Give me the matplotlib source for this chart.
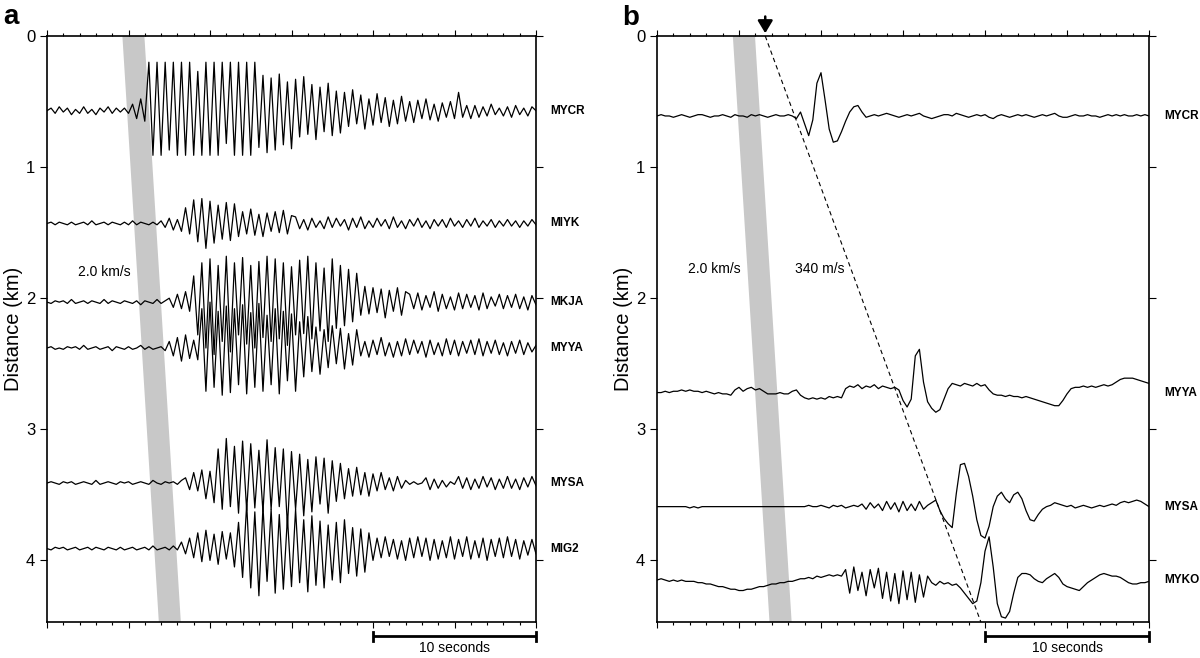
import numpy as np
import matplotlib
matplotlib.use('Agg')
import matplotlib.pyplot as plt
import matplotlib.transforms as mtransforms

plt.rcParams['font.family'] = ['Liberation Sans', 'DejaVu Sans']

DT = 0.25      # seconds between samples
UNIT = 0.01    # km per amplitude unit, positive = up on the page
YMAX = 4.47    # km at bottom of the axes

# gray band (2.0 km/s) and acoustic arrival (340 m/s)
band_t0, band_speed, band_width = 5.3, 2.0, 1.35
arrival_t0, arrival_speed = 6.6, 0.34

# ---- panel a ----
stations_a = ['MYCR', 'MIYK', 'MKJA', 'MYYA', 'MYSA', 'MIG2']
offsets_a = [0.57, 1.43, 2.03, 2.38, 3.41, 3.91]

mycr_a = [0, 2, -2, 3, -1, 2, -3, 1, -2, 3, -2, 1, -3, 2, -1, 3, -2, 2, -1, 2, -2,
          5, -6, 9, -8,
          37, -34, 37, -34, 37, -30, 37, -34, 37, -34, 37, -34, 30, -34, 37, -34, 37, -34,
          37, -25, 37, -34, 37, -34, 37, -34, 37,
          -28, 27, -32, 25, -30, 28, -26, 22, -29,
          24, -20, 26, -18, 20, -22, 18, -16, 21, -19, 15, -17,
          14, -12, 16, -10, 12, -14, 9, -11, 13, -9, 10, -12, 8, -10, 11, -8,
          7, -9, 8, -6, 9, -7, 5, -8, 6, -5, 7, -6, 14, -5, 4, -6,
          4, -5, 3, -4, 5, -3, 2, -4, 3, -5, 4, -3, 2, -4, 3, 0]
miyk_a = [0, 1, -1, 1, 0, -1, 1, -1, 0, 1, -1, 2, -1, 0, 1, -1, 1, 0, -1, 1, -1, 2, -1, 1, 0,
          -1, 1, -1, 2,
          -3, 4, -5, 3, -6,
          12, -8, 18, -14, 19, -19, 17, -15, 14, -12, 16, -13, 15,
          -10, 9, -8, 11, -9, 7, -10, 8, -6, 9, -7, 10, -8, 6,
          5, -4, 3, -5, 4, -3, 2, -4, 5, -3, 4, -2, 3, -5, 4, -3, 5, -4, 2, -3,
          4, -2, 3, -4, 5, -3, 2, -4, 3, -2, 4, -3, 2, -4, 3, -2, 3, -3, 4, -2,
          2, -3, 3, -2, 4, -3, 2, -2, 3, -3, 2, -2, 3, -2, 2, -3, 2, -2, 3, -1]
mkja_a = [0, -1, 1, 0, 1, -1, 2, -1, 0, 1, -1, 1, 0, -1, 2, -1, 1, 0, -1, 1,
          0, -1, 1, -2, 1, 0, -1, 2, -1, 1,
          3, -4, 6, -5, 8, -7,
          20, -25, 30, -35, 33, -40, 28, -30, 35, -38, 30, -25, 34, -32, 28, -35, 31, -27,
          35, -30, 33, -28, 30, -33, 27, -25, 32, -24, 35, -28, 30, -22, 26, -30, 33, -20,
          28, -18, 25, -15, 22,
          -10, 12, -9, 11, -8, 10, -12, 9, -7, 11, -10, 8,
          6, -5, 7, -6, 5, -4, 8, -7, 6, -5, 4, -6, 7, -5, 6, -4, 5, -6, 7, -5,
          4, -3, 6, -5, 5, -4, 6, -5, 4, -6, 5, -2]
myya_a = [0, 1, -1, 0, -1, 1, 0, 1, -1, 2, -1, 0, 1, -1, 0, 1, -2, 1, 0, -1,
          1, -1, 0, 2, -1, 1, -1, 0, 1, -2,
          5, -6, 8, -10, 10, -8, 6, -9,
          30, -33, 35, -30, 28, -36, 32, -34, 30, -28, 33, -35, 27, -30, 34, -33, 25, -28,
          30, -35, 28, -25, 26, -33, 20, -22, 24,
          -18, 16, -20, 14, -15, 17, -12, 15, -16, 11, -13, 14,
          -6, 5, -7, 6, -5, 8, -6, 4, -7, 5, -6, 7, -5, 6, -4, 5, -7, 6, -5, 4,
          -6, 7, -5, 6, -6, 5, -4, 6, -5, 7, -6, 5, -4, 6, -5, 4, -6, 5, -4, 6,
          -5, 4, -3, 2]
mysa_a = [0, 1, 0, -1, 1, 0, 1, -1, 0, 1, 0, -1, 2, -1, 0, 1, 0, -1, 1, 0,
          1, -1, 0, 1, 0, -1, 2, 0, -1, 1, 0, 1, -1, 2,
          4, -5, 8, -6, 10, -12, 9,
          -15, 26, -20, 34, -18, 28, -23, 32, -21, 30, -19, 25, -22, 33, -20, 27, -18, 26,
          -33, 24, -20, 22, -25, 18, -22, 20, -16, 19, -23, 17, -14, 15,
          -12, 11, -10, 12, -9, 8, -10, 7, -6, 8,
          -5, 4, -6, 5, -4, 2, -1, 1, -1, 0, 4, -5, 3, -4, 2, -3, 1, -1, 5, -4,
          4, -5, 3, -4, 5, -3, 4, -5, 3, -4, 5, -4, 3, -5, 4, -3, 5, -2]
mig2_a = [0, -1, 1, 0, 1, -1, 0, 1, -1, 0, 1, -1, 1, 0, -1, 1, 0, -1, 1, -1,
          0, 1, -1, 0, 1, -1, 2, -1, 0, 1, -1, 2, -1,
          5, -4, 8, -7, 12, -10, 14, -9, 11, -12, 13, -8, 12,
          -14, 20, -22, 34, -30, 28, -36, 32, -25, 30, -34, 26, -31, 24, -29, 30, -26, 22,
          -33, 25, -28, 21, -30, 18, -24, 20, -26, 22, -19, 16, -21, 15, -18, 12,
          -9, 8, -7, 9, -6, 7, -8, 6, -9, 8, -7, 9, -6, 8, -9, 7, -8, 6, -7, 9,
          -8, 7, -6, 9, -8, 6, -7, 8, -9, 7, -6, 8, -7, 9, -6, 7, -8, 6, -5, 7, -4]
traces_a = [mycr_a, miyk_a, mkja_a, myya_a, mysa_a, mig2_a]

# ---- panel b ----
stations_b = ['MYCR', 'MYYA', 'MYSA', 'MYKO']
offsets_b = [0.61, 2.72, 3.59, 4.15]

mycr_b = [0, 1, 0, 0, -1, 0, 1, 0, -1, 0, 1, 1, 0, -1, 0, 0, 1, 0, -1, 1,
          0, 0, -1, 1, 0, 1, 0, -1, 0, 1, 0, 0, 1, 0,
          -2, 3, -6, -15, -3, 25, 33, 12, -10, -20, -19, -12, -4, 3, 7, 8, 3, -1,
          0, 1, 0, 1, 2, 1, 0, -1, 0, 1, 0, 1, 2, 0, -1, -2, -1, 0, 1, 1,
          0, 2, 1, 0, -1, 0, 1, 0, 1, -1, -2, 0, 1, 0, -1, 0, 1, 0, 1, 0,
          -1, 0, 1, 0, 1, 2, 0, -1, -1, 0, 1, 0, 0, 1, 0, 0, -1, 0, 1, 0,
          1, 0, 1, 0, 0, 1, 0, 1, 0]
myya_b = [0, 0, 1, 0, 1, 1, 2, 1, 2, 1, 1, 0, 1, 0, -1, 0, -1, -1, -2,
          2, 4, 1, 3, 4, 2, 3, 1,
          -1, -1, -1, 0, -1, -1,
          1, 2,
          -2, -4, -5, -4, -5, -4, -5, -3, -4, -3, -4,
          3, 5, 4, 6, 3, 5, 4, 6, 3, 5, 4, 3, 4,
          2, -6, -11, -5, 28, 33, 8, -7, -12, -15, -13, -5, 3, 7,
          6, 5, 7, 6, 5, 7, 5, 6,
          2, -1, -2, -2, -3, -2, -3, -3, -4, -3, -4, -5,
          -6, -7, -8, -9, -10, -10,
          -6, -1, 3,
          4, 4, 5, 4, 5, 4, 5, 6, 5, 6, 8,
          10, 11, 11, 11, 10, 9, 8, 7]
mysa_b = [0, 0, 0, 0, 0, 0, 0, 0, -1, 0, -1, 0, 0, 0, 0, 0, 0, 0, 0, 0,
          0, 0, 0, 0, 0, 0, 0, 0, 0, 0, 0, 0, 0, 0, 0, 0, 0, 1, 0, 0,
          1, 0, -1, 1, 0, 1, -1, 0, 1, 0,
          2, -2, 3, -1, 2, -3, 4, -2, 3, -4, 4, -3, 2, -3, 4, -2, 1,
          3, 5, -3, -9, -13, -16, 10, 32, 33, 23, 8, -10, -22, -24, -15, 0,
          8, 11, 6, 3, 9, 11, 6, -3, -10, -11, -6, -2, 0, 1, 3, 2,
          1, 0, 1, -1, 0, 1, 0, -1, 0, 1, 0, 1, 2, 1,
          3, 4, 3, 4, 5, 4, 2, 0]
myko_b = [0, 1, 0, -1, 0, -1, 0, -1, -1, -1,
          -2, -2, -3, -3, -4, -5, -5, -6, -7, -7, -8,
          -8, -7, -7, -6, -5, -5, -4, -3, -3, -2, -2, -1, -1, 0,
          1, 1, 2, 1, 3, 2, 3, 4, 3, 4, 3,
          8, -10, 10, -8, 6, -12, 8, -6, 9, -14, 6, -16, 5, -18, 7, -15, 6, -17, 4, -13, 3,
          -2, -4, -1, -3, -2, -4, -3, -6, -10, -14,
          -18, -16, -2, 22, 33, 10, -18, -28, -29, -24, -10, 2, 5, 5, 4, 1, -1, -2, 1, 3,
          5, 2, -3, -5, -6, -7, -8, -5, -2, 0, 2, 4, 5, 4, 3, 3, 2, 0, -2, -3,
          -3, -2, -2, -1]
traces_b = [mycr_b, myya_b, mysa_b, myko_b]


def draw_panel(ax, names, offsets, traces):
    # 2.0 km/s gray band
    d = np.array([0, YMAX])
    tc = band_t0 + d / band_speed
    hw = band_width / 2
    ax.fill([tc[0] - hw, tc[0] + hw, tc[1] + hw, tc[1] - hw], [0, 0, YMAX, YMAX],
            color='#c8c8c8', lw=0, zorder=0)

    trans = mtransforms.blended_transform_factory(ax.transAxes, ax.transData)
    for name, off, tr in zip(names, offsets, traces):
        amp = np.asarray(tr) * UNIT
        t = np.arange(len(amp)) * DT
        ax.plot(t, off - amp, color='black', lw=0.9, zorder=3)
        ax.text(1.03, off, name, transform=trans, fontsize=8.5, fontweight='bold', va='center')

    ax.set_xlim(0, 30)
    ax.set_ylim(YMAX, 0)
    ax.set_xticks(np.arange(0, 31, 5))
    ax.set_xticks(np.arange(0, 31, 1), minor=True)
    ax.set_yticks([0, 1, 2, 3, 4])
    ax.tick_params(axis='x', which='both', direction='out', top=True, bottom=True,
                   labelbottom=False, width=0.8)
    ax.tick_params(axis='x', which='major', length=4.5)
    ax.tick_params(axis='x', which='minor', length=2.2)
    ax.tick_params(axis='y', direction='out', left=True, right=True, length=5,
                   width=0.8, labelsize=12)
    for sp in ax.spines.values():
        sp.set_linewidth(1.2)
    ax.set_ylabel('Distance (km)', fontsize=14.5, labelpad=2)

    # 10 s scale bar
    yb = YMAX + 0.11
    ax.plot([20, 30], [yb, yb], color='black', lw=2, clip_on=False, solid_capstyle='butt')
    for xe in (20, 30):
        ax.plot([xe, xe], [yb - 0.035, yb + 0.035], color='black', lw=2, clip_on=False)
    ax.text(25, yb + 0.085, '10 seconds', fontsize=10, ha='center', va='center')


fig = plt.figure(figsize=(12, 6.58), dpi=100)
ax_a = fig.add_axes([47 / 1200, 1 - 622 / 658, 489 / 1200, 586 / 658])
ax_b = fig.add_axes([657 / 1200, 1 - 622 / 658, 492 / 1200, 586 / 658])

draw_panel(ax_a, stations_a, offsets_a, traces_a)
draw_panel(ax_b, stations_b, offsets_b, traces_b)

ax_a.text(1.9, 1.8, '2.0 km/s', fontsize=10, va='center')
ax_b.text(1.9, 1.78, '2.0 km/s', fontsize=10, va='center')
ax_b.text(8.4, 1.78, '340 m/s', fontsize=10, va='center')

# 340 m/s arrival line and the arrow marking the origin
d = np.array([0, YMAX])
ax_b.plot(arrival_t0 + d / arrival_speed, d, color='black', lw=0.8, ls=(0, (4, 3)), zorder=2)
ax_b.annotate('', xy=(arrival_t0, 0), xytext=(arrival_t0, -0.17), annotation_clip=False,
              arrowprops=dict(arrowstyle='-|>,head_length=0.5,head_width=0.3',
                              color='black', lw=1.8, mutation_scale=15))

fig.text(3 / 1200, 1 - 24 / 658, 'a', fontsize=20, fontweight='bold', va='baseline')
fig.text(622 / 1200, 1 - 25 / 658, 'b', fontsize=20, fontweight='bold', va='baseline')

plt.savefig('out.png', dpi=100)
